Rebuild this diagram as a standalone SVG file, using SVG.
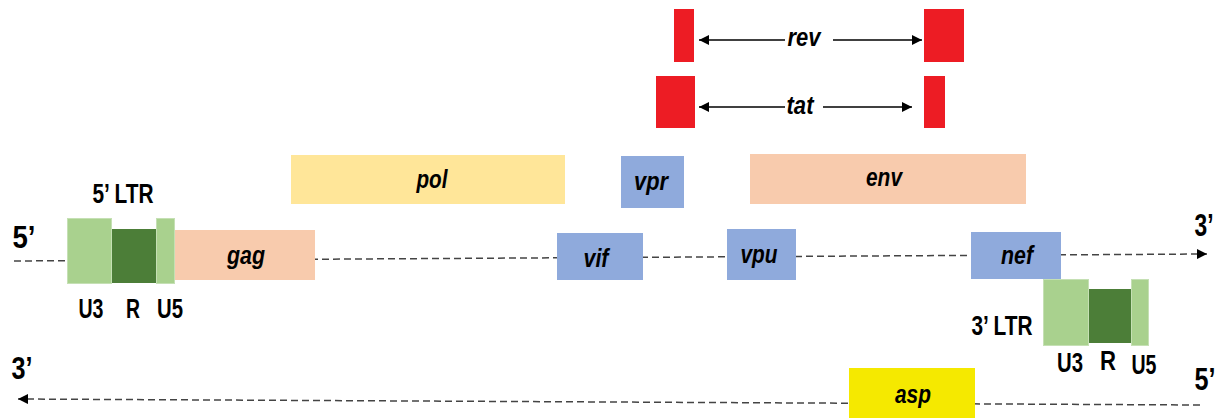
<svg xmlns="http://www.w3.org/2000/svg" width="1223" height="418" viewBox="0 0 1223 418">
<style>
.lbl{font-family:"Liberation Sans",Arial,sans-serif;font-weight:bold;fill:#000;text-anchor:middle}
.gene{font-style:italic;font-size:26px}
.plain{font-size:27px}
.end{font-size:32px}
.dash{stroke:#444;stroke-width:1.5;stroke-dasharray:7,4;fill:none}
.arr{stroke:#000;stroke-width:1.5;fill:none}
.u{fill:#a9d18e;stroke:#c5e0b4;stroke-width:1}
.r{fill:#4c7e38}
.red{fill:#ed1c24}
.blue{fill:#8faadc}
.peach{fill:#f8cbad}
</style>
<defs>
<marker id="ah" viewBox="0 0 10 10" refX="10" refY="5" markerWidth="10" markerHeight="10" markerUnits="userSpaceOnUse" orient="auto">
<path d="M0,0 L10,5 L0,10 Z" fill="#000"/>
</marker>
<marker id="ahs" viewBox="0 0 10 10" refX="0" refY="5" markerWidth="10" markerHeight="10" markerUnits="userSpaceOnUse" orient="auto">
<path d="M10,0 L0,5 L10,10 Z" fill="#000"/>
</marker>
</defs>
<g id="connectors">
<line class="dash" x1="14" y1="261" x2="1207" y2="254" marker-end="url(#ah)"/>
<line class="dash" x1="1200" y1="405" x2="18" y2="399" marker-end="url(#ah)"/>
<line class="arr" x1="699" y1="40" x2="785" y2="40" marker-start="url(#ahs)"/>
<line class="arr" x1="833" y1="40" x2="922" y2="40" marker-end="url(#ah)"/>
<line class="arr" x1="699" y1="107" x2="785" y2="107" marker-start="url(#ahs)"/>
<line class="arr" x1="823" y1="107" x2="912" y2="107" marker-end="url(#ah)"/>
</g>
<g id="strand-labels">
<text class="lbl end" x="24" y="248" textLength="23" lengthAdjust="spacingAndGlyphs">5’</text>
<text class="lbl end" x="1204" y="236" textLength="19" lengthAdjust="spacingAndGlyphs">3’</text>
<text class="lbl end" x="22" y="379" textLength="21" lengthAdjust="spacingAndGlyphs">3’</text>
<text class="lbl end" x="1205" y="390" textLength="21" lengthAdjust="spacingAndGlyphs">5’</text>
</g>
<g id="ltr5">
<rect class="u" x="67.5" y="218.5" width="44" height="65"/>
<rect class="r" x="112" y="229" width="44" height="54"/>
<rect class="u" x="156.5" y="218.5" width="18" height="65"/>
<text class="lbl plain" x="123" y="203" textLength="61" lengthAdjust="spacingAndGlyphs">5’ LTR</text>
<text class="lbl plain" x="91" y="318" textLength="25" lengthAdjust="spacingAndGlyphs">U3</text>
<text class="lbl plain" x="133" y="318" textLength="14" lengthAdjust="spacingAndGlyphs">R</text>
<text class="lbl plain" x="170" y="318" textLength="26" lengthAdjust="spacingAndGlyphs">U5</text>
</g>
<g id="gag"><rect class="peach" x="175" y="230" width="140" height="50"/><text class="lbl gene" x="246" y="264" textLength="38" lengthAdjust="spacingAndGlyphs">gag</text></g>
<g id="pol"><rect fill="#ffe699" x="291" y="155" width="274" height="49"/><text class="lbl gene" x="432" y="188" textLength="31" lengthAdjust="spacingAndGlyphs">pol</text></g>
<g id="vpr"><rect class="blue" x="621" y="156" width="63" height="52"/><text class="lbl gene" x="651" y="190" textLength="34" lengthAdjust="spacingAndGlyphs">vpr</text></g>
<g id="env"><rect class="peach" x="750" y="154" width="276" height="50"/><text class="lbl gene" x="884" y="186" textLength="36" lengthAdjust="spacingAndGlyphs">env</text></g>
<g id="vif"><rect class="blue" x="557" y="233" width="86" height="47"/><text class="lbl gene" x="596" y="267" textLength="25" lengthAdjust="spacingAndGlyphs">vif</text></g>
<g id="vpu"><rect class="blue" x="727" y="229" width="69" height="51"/><text class="lbl gene" x="759" y="263" textLength="37" lengthAdjust="spacingAndGlyphs">vpu</text></g>
<g id="nef"><rect class="blue" x="971" y="232" width="90" height="47"/><text class="lbl gene" x="1017" y="264" textLength="32" lengthAdjust="spacingAndGlyphs">nef</text></g>
<g id="ltr3">
<rect class="u" x="1043.5" y="279.5" width="45" height="66"/>
<rect class="r" x="1089" y="289" width="42" height="54"/>
<rect class="u" x="1131.5" y="279.5" width="17" height="66"/>
<text class="lbl plain" x="1002" y="335" textLength="61" lengthAdjust="spacingAndGlyphs">3’ LTR</text>
<text class="lbl plain" x="1070" y="372" textLength="26" lengthAdjust="spacingAndGlyphs">U3</text>
<text class="lbl plain" x="1108" y="370" textLength="16" lengthAdjust="spacingAndGlyphs">R</text>
<text class="lbl plain" x="1144" y="374" textLength="25" lengthAdjust="spacingAndGlyphs">U5</text>
</g>
<g id="asp"><rect fill="#f5e900" x="849" y="368" width="126" height="50"/><text class="lbl gene" x="913" y="403" textLength="36" lengthAdjust="spacingAndGlyphs">asp</text></g>
<g id="rev">
<rect class="red" x="674" y="9" width="20" height="53"/>
<rect class="red" x="924" y="9" width="40" height="53"/>
<text class="lbl gene" x="804" y="46" font-size="29" textLength="33" lengthAdjust="spacingAndGlyphs">rev</text>
</g>
<g id="tat">
<rect class="red" x="656" y="76" width="39" height="52"/>
<rect class="red" x="924" y="76" width="21" height="52"/>
<text class="lbl gene" x="800" y="114" font-size="29" textLength="27" lengthAdjust="spacingAndGlyphs">tat</text>
</g>
</svg>
